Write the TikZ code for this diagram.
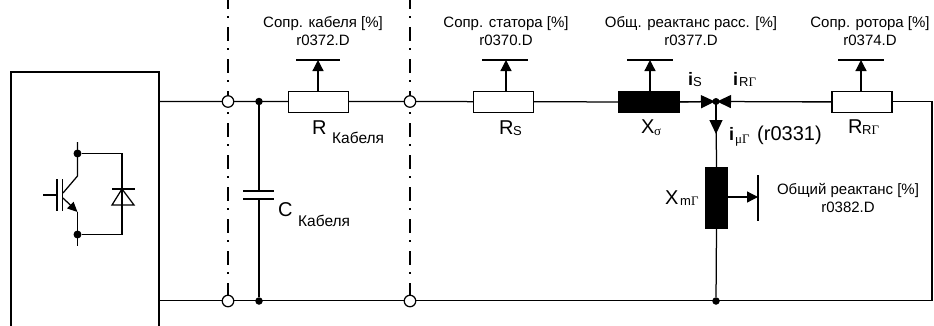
\documentclass[tikz,border=0pt]{standalone}
\usepackage{fontspec}
\setmainfont{Liberation Sans}
\newfontfamily\grk{Liberation Serif}
\usetikzlibrary{arrows.meta}
\tikzset{
  wire/.style={line width=1.25pt,line cap=butt},
  res/.style={draw,line width=1.3pt,fill=white,minimum width=60pt,minimum height=21pt,inner sep=0pt,outer sep=0pt},
  ind/.style={res,fill=black},
  dotn/.style={circle,fill=black,inner sep=0pt,minimum size=7.5pt},
  term/.style={circle,draw,line width=1.25pt,fill=white,inner sep=0pt,minimum size=11.5pt},
  tap/.style={wire,-{Triangle[length=11pt,width=11pt]}},
  bar/.style={line width=1.2pt},
  sep/.style={line width=1.2pt,dash pattern=on 14pt off 7pt on 1.6pt off 9.4pt},
  lbl/.style={font=\fontsize{15pt}{18pt}\selectfont,align=center,inner sep=0pt,anchor=base},
  big/.style={font=\fontsize{20pt}{22pt}\selectfont,inner sep=0pt,anchor=base west},
  sub/.style={font=\fontsize{15.5pt}{17pt}\selectfont,inner sep=0pt,anchor=base west},
  subb/.style={font=\fontsize{13pt}{15pt}\selectfont,inner sep=0pt,anchor=base west},
  curr/.style={font=\fontsize{18pt}{20pt}\selectfont\bfseries,inner sep=0pt,anchor=base west},
  flow/.style={wire,-{Triangle[length=14pt,width=13pt]}},
}
\begin{document}
\begin{tikzpicture}[x=1pt,y=-1pt]
\useasboundingbox (0,0) rectangle (934,325);
% separators
\coordinate (s1t) at (228,-5); \coordinate (s1b) at (228,301);
\coordinate (s2t) at (410,-5); \coordinate (s2b) at (410,301);
\draw[sep] (s1t) -- (s1b);
\draw[sep] (s2t) -- (s2b);
% converter box
\coordinate (boxa) at (11,326); \coordinate (boxb) at (11,72);
\coordinate (boxc) at (159,72); \coordinate (boxd) at (159,326);
\draw[wire] (boxa) -- (boxb) -- (boxc) -- (boxd);
\coordinate (bt) at (159,101.5); \coordinate (bb) at (159,300.5);
% junction coordinates
\coordinate (t1c) at (228,101.5); \coordinate (t2c) at (228,301);
\coordinate (t3c) at (410,101.5); \coordinate (t4c) at (410,301);
\coordinate (d1c) at (259,101.5); \coordinate (d2c) at (259,301);
\coordinate (jc) at (716,101.5);  \coordinate (d3c) at (716,301);
\coordinate (cr) at (932,101.5); \coordinate (crb) at (932,300.5);
\coordinate (rcc) at (318.5,102); \coordinate (rsc) at (503.5,102);
\coordinate (xsc) at (649,102); \coordinate (rrc) at (862,102);
% wires
\draw[wire] (bt) -- (t1c) -- (d1c) -- (t3c) -- (xsc);
\draw[wire] (bb) -- (crb) -- (cr) -- (jc);
\draw[wire] (xsc) -- (jc);
% elements
\node[term] (t1) at (t1c) {};
\node[term] (t2) at (t2c) {};
\node[term] (t3) at (t3c) {};
\node[term] (t4) at (t4c) {};
\node[dotn] (d1) at (d1c) {};
\node[dotn] (d2) at (d2c) {};
\node[dotn] (d3) at (d3c) {};
\node[res] (rc) at (rcc) {};
\node[res] (rs) at (rsc) {};
\node[ind] (xs) at (xsc) {};
\node[res] (rr) at (rrc) {};
\node[ind,minimum width=22pt,minimum height=61pt] (xm) at (716.5,198) {};
% capacitor
\coordinate (c1) at (259,191); \coordinate (c2) at (259,199);
\coordinate (c1l) at (243,191); \coordinate (c1r) at (274,191);
\coordinate (c2l) at (243,199); \coordinate (c2r) at (274,199);
\draw[wire] (d1) -- (c1);
\draw[wire] (d2) -- (c2);
\draw[wire] (c1l) -- (c1r);
\draw[wire] (c2l) -- (c2r);
% flows
\coordinate (jw) at (715,101.5); \coordinate (je) at (717,101.5); \coordinate (js) at (716,134);
\draw[flow] (xs.east) -- (jw);
\draw[flow] (rr.west) -- (je);
\draw[wire] (jc) -- (xm.north);
\draw[flow] (jc) -- (js);
\draw[wire] (xm.south) -- (d3);
\node[dotn,minimum size=7pt] (j) at (jc) {};
% taps
\foreach \n/\x/\a/\b in {rc/318/296/340, rs/506/482/528, xs/650/627/673, rr/861/838/884}{
  \coordinate (top\n) at (\x,60);
  \coordinate (bot\n) at (\x,91);
  \coordinate (la\n) at (\a,60);
  \coordinate (lb\n) at (\b,60);
  \draw[tap] (bot\n) -- (top\n);
  \draw[bar] (la\n) -- (lb\n);
}
% magnetising tap
\coordinate (mtip) at (758,197);
\coordinate (mba) at (758,175); \coordinate (mbb) at (758,221);
\draw[tap] (xm.east |- mtip) -- (mtip);
\draw[bar] (mba) -- (mbb);
% texts
\node[lbl] (t_rc) at (323,45) {Сопр. кабеля [\%]\\r0372.D};
\node[lbl] (t_rs) at (506,45) {Сопр. статора [\%]\\r0370.D};
\node[lbl] (t_xs) at (691,45) {Общ. реактанс расс. [\%]\\r0377.D};
\node[lbl] (t_rr) at (870,45) {Сопр. ротора [\%]\\r0374.D};
\node[lbl] (t_xm) at (848,212.5) {Общий реактанс [\%]\\r0382.D};
\node[big] (n1) at (312,134) {R};
\node[sub] (n2) at (332,143) {Кабеля};
\node[big] (n3) at (278,216) {C};
\node[sub] (n4) at (298,226) {Кабеля};
\node[big] (n5) at (499,134) {R};
\node[subb] (n6) at (513,135.5) {S};
\node[big] (n7) at (641,133) {X};
\node[subb] (n8) at (654,135) {{\grk σ}};
\node[big] (n9) at (848,133) {R};
\node[subb] (n10) at (862,134) {R{\grk Γ}};
\node[big] (n11) at (665,204) {X};
\node[subb] (n12) at (680,205) {m{\grk Γ}};
\node[curr] (n13) at (688,85) {i};
\node[subb] (n14) at (693,86) {S};
\node[curr] (n15) at (733,85) {i};
\node[subb] (n16) at (739,86) {R{\grk Γ}};
\node[curr] (n17) at (729,140) {i};
\node[subb] (n18) at (735,143) {{\grk μΓ}};
\node[big] (n19) at (757,140) {(r0331)};
% IGBT
\coordinate (qc0) at (77.5,142); \coordinate (qc) at (77.5,176);
\coordinate (qb) at (63,193); \coordinate (qe1) at (63,198);
\coordinate (qe2) at (77.5,212); \coordinate (qe0) at (77.5,246);
\node[dotn,minimum size=8pt] (dq1) at (77.5,153.5) {};
\node[dotn,minimum size=8pt] (dq2) at (77.5,234.5) {};
\coordinate (g0) at (43,195); \coordinate (g1) at (57,195);
\coordinate (ga) at (57,179); \coordinate (gb) at (57,211);
\coordinate (ha) at (62.5,179); \coordinate (hb) at (62.5,211);
\draw[wire] (g0) -- (g1);
\draw[wire] (ga) -- (gb);
\draw[wire] (ha) -- (hb);
\draw[wire] (qc0) -- (qc) -- (qb);
\draw[wire,-{Triangle[length=10pt,width=9pt]}] (qe1) -- (qe2);
\draw[wire] (qe2) -- (qe0);
\coordinate (dt) at (122,153.5); \coordinate (db) at (122,234.5);
\coordinate (da) at (122,189);
\coordinate (dl) at (112,205); \coordinate (dr) at (134,205);
\coordinate (ba) at (112,189); \coordinate (bz) at (135,189);
\draw[wire] (dq1) -- (dt) -- (db) -- (dq2);
\draw[wire,line join=miter] (da) -- (dl) -- (dr) -- cycle;
\draw[wire] (ba) -- (bz);
\end{tikzpicture}
\end{document}
